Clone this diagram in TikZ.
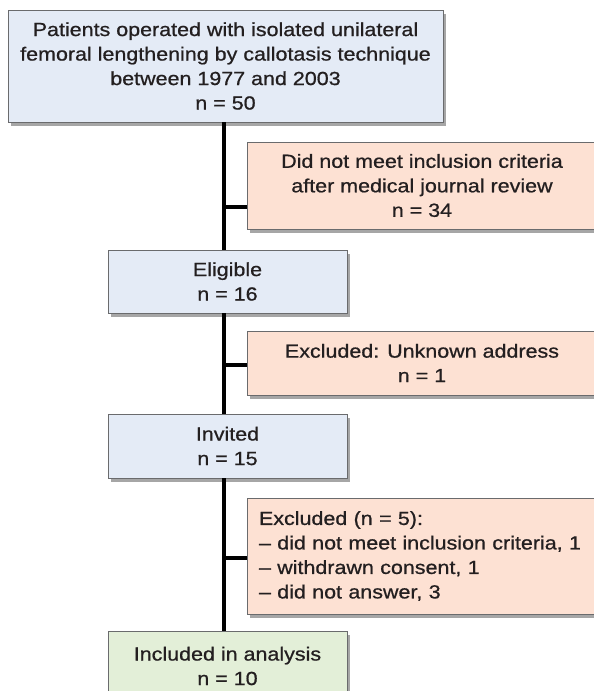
\documentclass[tikz,border=0pt]{standalone}
\usepackage{fontspec}
\setmainfont[FakeStretch=1.13, FakeBold=0.8]{Liberation Sans}
\usetikzlibrary{shadows}

\definecolor{boxblue}{HTML}{E4EBF6}
\definecolor{boxorange}{HTML}{FDE1D3}
\definecolor{boxgreen}{HTML}{E3EFD8}
\definecolor{boxline}{HTML}{6A6B6D}
\definecolor{txt}{HTML}{231F20}

\tikzset{
  box/.style={draw=boxline, line width=0.8pt, text=txt, align=center, inner sep=0pt,
    drop shadow={shadow xshift=3pt, shadow yshift=-4pt, fill=black, opacity=0.35},
    font=\fontsize{19}{24.5}\selectfont},
  stage/.style={box, fill=boxblue, minimum width=239pt},
  drop/.style={box, fill=boxorange, minimum width=350pt},
  final/.style={box, fill=boxgreen, minimum width=239pt},
  trunk/.style={line width=4pt, black}
}

\begin{document}
\begin{tikzpicture}[x=1pt, y=1pt]
\useasboundingbox (0,0) rectangle (594,-691);
\clip (0,0) rectangle (594,-691);
% nodes
\node[stage, minimum width=435pt, minimum height=112pt] (n1) at (225.5,-66)
  {Patients operated with isolated unilateral\\femoral lengthening by callotasis technique\\between 1977 and 2003\\n = 50};
    \node[drop, minimum height=87pt] (n1-1) at (422,-185.5)
      {Did not meet inclusion criteria\\after medical journal review\\n = 34};
\node[stage, minimum height=63pt] (n2) at (227.5,-281.5) {Eligible\\n = 16};
    \node[drop, minimum height=64pt] (n2-1) at (422,-363) {Excluded: Unknown address\\n = 1};
\node[stage, minimum height=64pt] (n3) at (227.5,-446) {Invited\\n = 15};
    \node[drop, minimum height=116pt, text width=326pt, align=left] (n3-1) at (422,-556)
      {Excluded (n = 5):\\– did not meet inclusion criteria, 1\\– withdrawn consent, 1\\– did not answer, 3};
\node[final, minimum height=70pt] (n4) at (227.5,-666) {Included in analysis\\n = 10};
% branch points on the trunk
\coordinate (b1) at (224,-207);
\coordinate (b2) at (224,-365);
\coordinate (b3) at (224,-558);
% lines
\draw[trunk] (n1.south -| b1) -- (n2.north -| b1);
\draw[trunk] (n2.south -| b1) -- (n3.north -| b1);
\draw[trunk] (n3.south -| b1) -- (n4.north -| b1);
\draw[trunk] (b1) -- (b1 -| n1-1.west);
\draw[trunk] (b2) -- (b2 -| n2-1.west);
\draw[trunk] (b3) -- (b3 -| n3-1.west);
\end{tikzpicture}
\end{document}
